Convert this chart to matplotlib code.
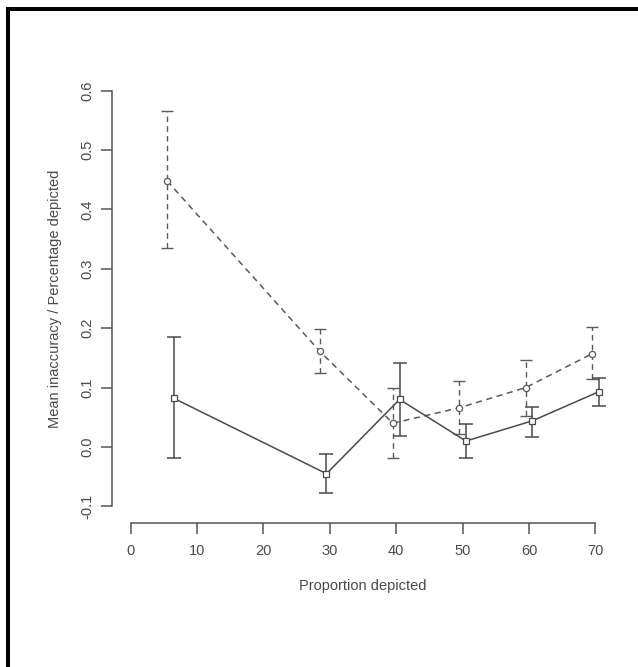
import matplotlib

matplotlib.use("Agg")
import matplotlib.pyplot as plt
import numpy as np
from matplotlib.patches import Rectangle

plt.rcParams["font.family"] = ["Liberation Sans", "DejaVu Sans"]

# ── data ────────────────────────────────────────────────────────────────────
# dashed series (open circles)
dash_x = [5.5, 28.5, 39.5, 49.5, 59.5, 69.5]
dash_y = [0.448, 0.161, 0.040, 0.066, 0.100, 0.157]
dash_lo = [0.335, 0.125, -0.019, 0.022, 0.052, 0.115]
dash_hi = [0.565, 0.198, 0.099, 0.111, 0.146, 0.202]

# solid series (open squares)
solid_x = [6.5, 29.5, 40.5, 50.5, 60.5, 70.5]
solid_y = [0.082, -0.045, 0.080, 0.010, 0.044, 0.093]
solid_lo = [-0.018, -0.078, 0.019, -0.019, 0.017, 0.069]
solid_hi = [0.185, -0.012, 0.142, 0.039, 0.067, 0.116]

x_ticks = [0, 10, 20, 30, 40, 50, 60, 70]
y_ticks = [-0.1, 0.0, 0.1, 0.2, 0.3, 0.4, 0.5, 0.6]

W, H = 638, 667
fig = plt.figure(figsize=(W / 100, H / 100), dpi=100)
fig.patch.set_facecolor("white")

# R-style plot region
ax = fig.add_axes([112 / W, 1 - 523 / H, (614 - 112) / W, (523 - 74) / H])
ax.set_xlim(-2.8, 72.8)
ax.set_ylim(-0.128, 0.628)

c_dash = "#5a5a5a"
c_solid = "#4a4a4a"


def yerr(y, lo, hi):
    y, lo, hi = np.array(y), np.array(lo), np.array(hi)
    return np.vstack([y - lo, hi - y])


eb = ax.errorbar(dash_x, dash_y, yerr=yerr(dash_y, dash_lo, dash_hi), fmt="none",
                 ecolor=c_dash, elinewidth=1, capsize=4, capthick=1)
for lc in eb[2]:
    lc.set_linestyle((0, (4, 3)))
ax.errorbar(solid_x, solid_y, yerr=yerr(solid_y, solid_lo, solid_hi), fmt="none",
            ecolor=c_solid, elinewidth=1.1, capsize=5, capthick=1.1)

ax.plot(dash_x, dash_y, color=c_dash, lw=1.1, dashes=(4, 3), marker="o", ms=4.5,
        mfc="white", mec=c_dash, mew=0.9)
ax.plot(solid_x, solid_y, color=c_solid, lw=1.1, marker="s", ms=5,
        mfc="white", mec=c_solid, mew=0.9)

# axes look like base R: detached lines with tick extent only
for s in ("top", "right"):
    ax.spines[s].set_visible(False)
ax.spines["left"].set_bounds(y_ticks[0], y_ticks[-1])
ax.spines["bottom"].set_bounds(x_ticks[0], x_ticks[-1])
for s in ("left", "bottom"):
    ax.spines[s].set_color("#555555")
    ax.spines[s].set_linewidth(1.1)

ax.set_xticks(x_ticks)
ax.set_xticklabels([str(v) for v in x_ticks])
ax.set_yticks(y_ticks)
ax.set_yticklabels([f"{v:.1f}" for v in y_ticks], rotation=90, va="center")
ax.tick_params(axis="both", colors="#555555", labelcolor="#4a4a4a", length=8,
               width=1.1, labelsize=10.5)
ax.tick_params(axis="x", pad=7)
ax.tick_params(axis="y", pad=5)

ax.set_xlabel("Proportion depicted", fontsize=10.5, color="#4a4a4a", labelpad=15)
ax.set_ylabel("Mean inaccuracy / Percentage depicted", fontsize=10.5,
              color="#4a4a4a", labelpad=13)

# black frame on top and left edges of the image
fig.add_artist(Rectangle((6 / W, 1 - 11 / H), 1 - 6 / W, 4 / H,
                         transform=fig.transFigure, color="black", lw=0))
fig.add_artist(Rectangle((6 / W, 0), 4 / W, 1 - 7 / H,
                         transform=fig.transFigure, color="black", lw=0))

fig.savefig("out.png", dpi=100, facecolor="white")
plt.close(fig)
